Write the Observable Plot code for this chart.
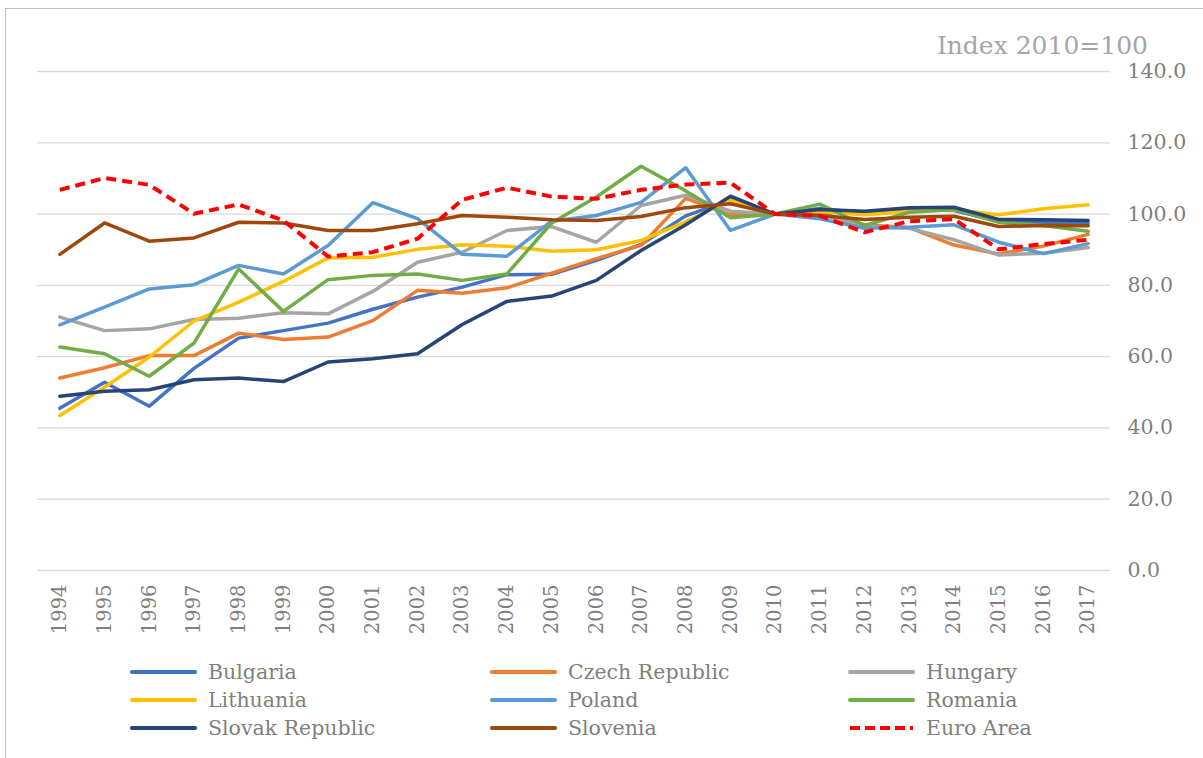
<!DOCTYPE html>
<html>
<head>
<meta charset="utf-8">
<script src="https://cdn.jsdelivr.net/npm/d3@7"></script>
<script src="https://cdn.jsdelivr.net/npm/@observablehq/plot@0.6"></script>
<style>
  html, body { margin: 0; padding: 0; background: #fff; }
  body { width: 1203px; height: 758px; position: relative; overflow: hidden; font-family: "DejaVu Serif", Georgia, serif; }
  #frame { position: absolute; left: 5px; top: 8px; width: 1400px; height: 900px; border-left: 1px solid #bfbfbf; border-top: 1px solid #bfbfbf; pointer-events: none; }
  #header { height: 60px; box-sizing: border-box; padding-top: 33px; line-height: 26px; font-size: 25px; color: #a6a6a6; text-align: right; padding-right: 55px; }
  #chart svg { display: block; }
  #legend { position: relative; height: 108px; }
  .item { position: absolute; display: flex; align-items: center; height: 28px; font-size: 20.5px; color: #7f7f7f; }
  .item svg { margin-right: 11px; }
</style>
</head>
<body>
<div id="frame"></div>
<div id="header">Index 2010=100</div>
<div id="chart"></div>
<div id="legend"></div>
<script>
const years = [1994,1995,1996,1997,1998,1999,2000,2001,2002,2003,2004,2005,2006,2007,2008,2009,2010,2011,2012,2013,2014,2015,2016,2017];
const bulgaria  = [45.5,52.8,46.1,56.7,65.2,67.3,69.4,73.3,76.7,79.5,83.0,83.1,87.0,91.5,99.5,104.0,100,101.6,100.2,101.2,101.0,98.0,97.6,97.4];
const czech     = [54.0,56.9,60.3,60.3,66.6,64.8,65.5,70.1,78.6,77.8,79.3,83.4,87.5,91.2,104.4,99.8,100,100.3,97.0,96.2,91.3,88.8,91.0,94.3];
const hungary   = [71.1,67.3,67.8,70.4,70.8,72.3,72.0,78.3,86.5,89.3,95.4,96.5,92.1,102.4,105.3,100.8,100,100.0,96.5,96.0,92.8,88.5,89.0,90.6];
const lithuania = [43.5,51.4,59.9,70.0,75.3,81.1,87.7,87.9,90.1,91.4,91.0,89.6,90.0,92.6,97.8,104.0,100,100.8,99.8,100.7,101.2,99.8,101.5,102.6];
const poland    = [68.9,73.9,79.0,80.2,85.6,83.2,91.2,103.2,98.7,88.7,88.2,98.0,99.6,103.3,113.0,95.4,100,98.7,96.0,96.3,97.0,92.1,88.9,91.7];
const romania   = [62.7,60.8,54.5,63.8,84.6,72.7,81.6,82.8,83.2,81.4,83.2,97.5,104.8,113.4,106.5,99.0,100,102.8,96.8,100.5,101.3,97.7,96.8,95.2];
const slovak    = [48.9,50.3,50.7,53.5,54.0,53.0,58.5,59.4,60.8,69.0,75.5,77.0,81.4,89.8,97.0,105.0,100,101.3,100.8,101.8,101.9,98.5,98.4,98.2];
const slovenia  = [88.7,97.5,92.4,93.3,97.7,97.5,95.4,95.4,97.3,99.6,99.1,98.4,98.2,99.3,101.8,102.9,100,99.6,98.5,99.1,99.4,96.5,96.8,96.7];
const euroArea  = [106.8,110.1,108.2,100.1,102.7,98.2,88.1,89.3,93.1,104.0,107.4,104.9,104.3,106.8,108.3,108.8,100,99.5,94.9,98.0,98.6,90.1,91.6,92.8];
const yTicks = [0,20,40,60,80,100,120,140];

const seriesNames = ["Bulgaria","Czech Republic","Hungary","Lithuania","Poland","Romania","Slovak Republic","Slovenia","Euro Area"];
const seriesValues = [bulgaria,czech,hungary,lithuania,poland,romania,slovak,slovenia,euroArea];
const seriesColors = ["#4472c4","#ed7d31","#a5a5a5","#ffc000","#5b9bd5","#70ad47","#264478","#9e480e","#ff0000"];

const marks = [
  Plot.ruleY(yTicks, {x1: 1993.5, x2: 2017.5, stroke: "#d9d9d9", strokeWidth: 1.3})
];
seriesNames.forEach((name, i) => {
  const data = years.map((yr, j) => ({year: yr, value: seriesValues[i][j]}));
  marks.push(Plot.line(data, {
    x: "year", y: "value",
    stroke: seriesColors[i],
    strokeWidth: name === "Euro Area" ? 4 : 3.5,
    strokeDasharray: name === "Euro Area" ? "10,6" : null,
    strokeLinejoin: "round",
    strokeLinecap: name === "Euro Area" ? "butt" : "round"
  }));
});
marks.push(Plot.axisY(yTicks, {anchor: "right", tickSize: 0, tickPadding: 17, tickFormat: d3.format(".1f"), fontSize: 20.5, fill: "#7f7f7f", label: null}));
marks.push(Plot.axisX(years, {anchor: "bottom", tickSize: 0, tickRotate: -90, tickPadding: 14, tickFormat: d => String(d), fontSize: 19.5, fill: "#7f7f7f", label: null}));

const chart = Plot.plot({
  width: 1203,
  height: 590,
  marginTop: 11,
  marginBottom: 80,
  marginLeft: 37,
  marginRight: 93,
  style: {fontFamily: "'DejaVu Serif', Georgia, serif", background: "transparent", overflow: "visible"},
  x: {domain: [1993.5, 2017.5], axis: null},
  y: {domain: [0, 140], axis: null},
  marks
});
document.getElementById("chart").appendChild(chart);

// legend
const legend = document.getElementById("legend");
const colX = [130, 490, 848];
seriesNames.forEach((name, i) => {
  const col = i % 3, row = Math.floor(i / 3);
  const div = document.createElement("div");
  div.className = "item";
  div.style.left = colX[col] + "px";
  div.style.top = (8 + row * 28) + "px";
  const dash = name === "Euro Area" ? 'stroke-dasharray="10,5"' : "";
  div.innerHTML = `<svg width="67" height="8"><line x1="2" x2="65" y1="4" y2="4" stroke="${seriesColors[i]}" stroke-width="4" stroke-linecap="${name === "Euro Area" ? "butt" : "round"}" ${dash}/></svg><span>${name}</span>`;
  legend.appendChild(div);
});
</script>
</body>
</html>
